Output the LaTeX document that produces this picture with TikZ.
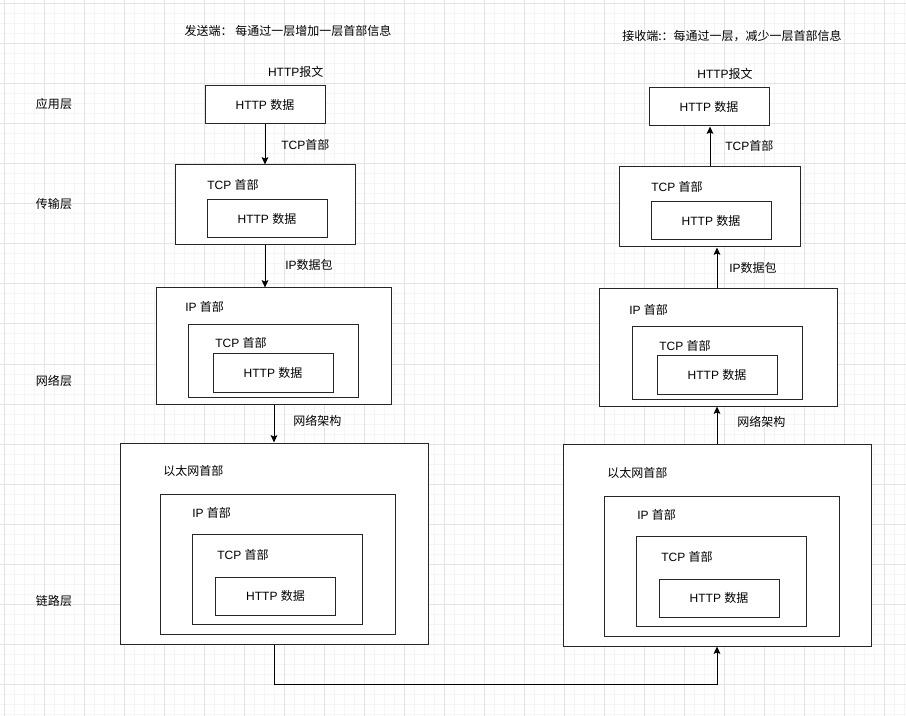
\documentclass[tikz,border=0pt]{standalone}
\usepackage{fontspec}
\setmainfont{Liberation Sans}
\newfontfamily\cjk{Noto Sans CJK SC}
\usetikzlibrary{positioning}
\usetikzlibrary{arrows.meta}
\definecolor{gridmajor}{RGB}{228,228,228}
\definecolor{gridminor}{RGB}{245,245,245}

\begin{document}
\begin{tikzpicture}[
    x=0.75pt, y=-0.75pt,
    font=\fontsize{9}{11}\selectfont,
    box/.style 2 args={rectangle, draw=black!85, line width=0.75pt, fill=white,
                 minimum width=#1*0.75pt, minimum height=#2*0.75pt, inner sep=0pt},
    hdr/.style={anchor=west, inner sep=0pt},
    lbl/.style={inner sep=0pt},
    arrow/.style={-{Stealth[length=5.5pt,width=5pt,inset=1pt]}, line width=0.75pt}
]
    % background and grid
    \fill[white] (0,0) rectangle (906,716);
    \useasboundingbox (0,0) rectangle (906,716);
    \foreach \g in {4,14,...,904} \draw[gridminor, line width=0.75pt] (\g,0) -- (\g,716);
    \foreach \g in {4,14,...,714} \draw[gridminor, line width=0.75pt] (0,\g) -- (906,\g);
    \foreach \g in {4,44,...,904} \draw[gridmajor, line width=0.75pt] (\g,0) -- (\g,716);
    \foreach \g in {4,44,...,714} \draw[gridmajor, line width=0.75pt] (0,\g) -- (906,\g);

    % titles and layer names
    \node[lbl] (tsend) at (288,31) {\cjk 发送端：\ 每通过一层增加一层首部信息};
    \node[lbl] (trecv) at (732,36) {\cjk 接收端:：每通过一层，减少一层首部信息};
    \node[lbl] (app)  at (54,104) {\cjk 应用层};
    \node[lbl] (tran) at (54,204) {\cjk 传输层};
    \node[lbl] (net)  at (54,381) {\cjk 网络层};
    \node[lbl] (link) at (54,601) {\cjk 链路层};

    % sender side
    \node[box={120}{38}] (l1) at (265,105) {HTTP {\cjk 数据}};
    \node[lbl, above=6pt of l1, xshift=23pt] (l1msg) {HTTP{\cjk 报文}};

    \node[box={180}{80}] (l2) at (265,205) {};
    \node[box={120}{38}] (l2http) at (267,219) {HTTP {\cjk 数据}};
    \node[hdr] (l2tcp) at (207,185) {TCP {\cjk 首部}};

    \node[box={235}{116}] (l3) at (273.5,346) {};
    \node[box={170}{72}] (l3tcpbox) at (273,361) {};
    \node[box={120}{38}] (l3http) at (273,373) {HTTP {\cjk 数据}};
    \node[hdr] (l3ip) at (185,307) {IP {\cjk 首部}};
    \node[hdr] (l3tcp) at (215,343) {TCP {\cjk 首部}};

    \node[box={308}{201}] (l4) at (274,543.5) {};
    \node[box={235}{140}] (l4ipbox) at (277.5,564) {};
    \node[box={170}{90}] (l4tcpbox) at (277,579) {};
    \node[box={120}{38}] (l4http) at (275.5,596) {HTTP {\cjk 数据}};
    \node[hdr] (l4eth) at (163,471) {\cjk 以太网首部};
    \node[hdr] (l4ip) at (192,513) {IP {\cjk 首部}};
    \node[hdr] (l4tcp) at (217,555) {TCP {\cjk 首部}};

    % receiver side
    \node[box={120}{38}] (r1) at (709,107) {HTTP {\cjk 数据}};
    \node[lbl, above=6pt of r1, xshift=12pt] (r1msg) {HTTP{\cjk 报文}};

    \node[box={181}{80}] (r2) at (709.5,207) {};
    \node[box={120}{38}] (r2http) at (711,221) {HTTP {\cjk 数据}};
    \node[hdr] (r2tcp) at (651,187) {TCP {\cjk 首部}};

    \node[box={238}{117}] (r3) at (718,347.5) {};
    \node[box={170}{72}] (r3tcpbox) at (717,363) {};
    \node[box={120}{38}] (r3http) at (717,375) {HTTP {\cjk 数据}};
    \node[hdr] (r3ip) at (629,310) {IP {\cjk 首部}};
    \node[hdr] (r3tcp) at (659,346) {TCP {\cjk 首部}};

    \node[box={308}{202}] (r4) at (717,545) {};
    \node[box={235}{140}] (r4ipbox) at (721.5,566) {};
    \node[box={170}{90}] (r4tcpbox) at (721,581) {};
    \node[box={120}{38}] (r4http) at (719,598) {HTTP {\cjk 数据}};
    \node[hdr] (r4eth) at (607,473) {\cjk 以太网首部};
    \node[hdr] (r4ip) at (637,515) {IP {\cjk 首部}};
    \node[hdr] (r4tcp) at (661,557) {TCP {\cjk 首部}};

    % connectors
    \draw[arrow] (l1) -- (l2);
    \draw[arrow] (l2.south) -- (l2.south |- l3.north);
    \draw[arrow] (l3.south -| l4.north) -- (l4.north);
    \draw[arrow] (l4.south) -- ++(0,40) -| (r4.south);
    \draw[arrow] (r4.north) -- (r4.north |- r3.south);
    \draw[arrow] (r4.north |- r3.north) -- (r4.north |- r2.south);
    \draw[arrow] (r2.north -| r1.south) ++(1,0) -- ([xshift=0.75pt]r1.south);

    % connector labels
    \node[hdr] (lc1) at (281,145) {TCP{\cjk 首部}};
    \node[hdr] (lc2) at (285,265) {IP{\cjk 数据包}};
    \node[hdr] (lc3) at (293,421) {\cjk 网络架构};
    \node[hdr] (rc1) at (725,146) {TCP{\cjk 首部}};
    \node[hdr] (rc2) at (729,268) {IP{\cjk 数据包}};
    \node[hdr] (rc3) at (737,422) {\cjk 网络架构};
\end{tikzpicture}
\end{document}
